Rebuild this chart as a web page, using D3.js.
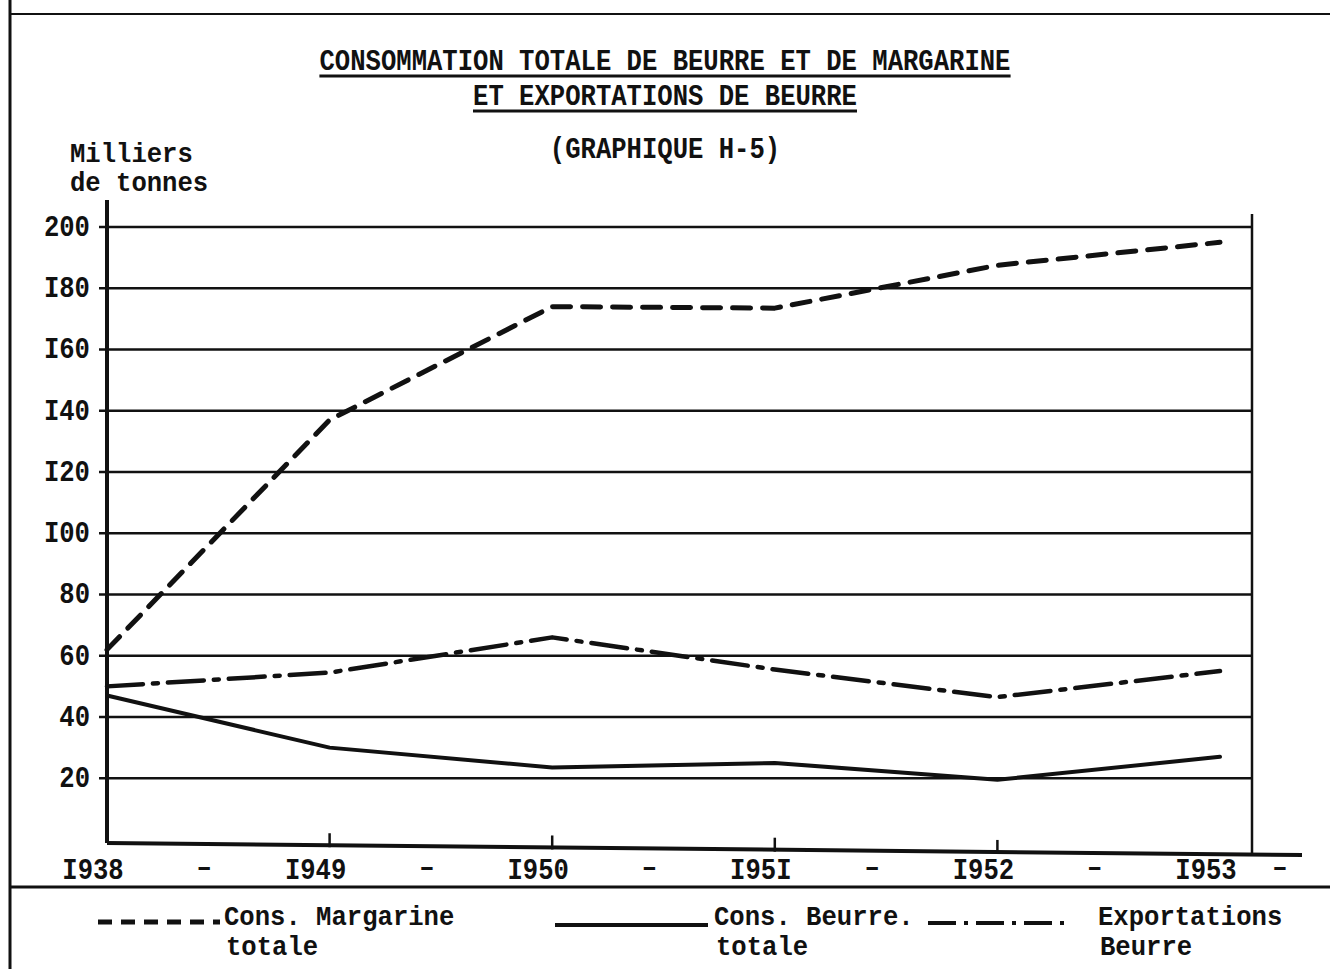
<!DOCTYPE html>
<html>
<head>
<meta charset="utf-8">
<script src="https://cdn.jsdelivr.net/npm/d3@7"></script>
<style>
  body { margin: 0; background: #fff; }
  text { font-family: "Liberation Mono", "DejaVu Sans Mono", monospace; fill: #111; }
</style>
</head>
<body>
<div id="chart"></div>
<script>
// years on the x axis (typed labels use I for 1)
var years = [1938, 1949, 1950, 1951, 1952, 1953];
var yearLabels = ["I938", "I949", "I950", "I95I", "I952", "I953"];

// series, milliers de tonnes
var margarine = [62, 137, 174, 173.5, 187.5, 195];
var beurre = [47, 30, 23.5, 25, 19.5, 27];
var exportations = [50, 54.5, 66, 55.5, 46.5, 55];

var yTicks = [20, 40, 60, 80, 100, 120, 140, 160, 180, 200];
var yTickLabels = ["20", "40", "60", "80", "I00", "I20", "I40", "I60", "I80", "200"];

var titleLines = ["CONSOMMATION TOTALE DE BEURRE ET DE MARGARINE", "ET EXPORTATIONS DE BEURRE"];
var subtitle = "(GRAPHIQUE H-5)";

var W = 1330, H = 969;
var fs = 25.6;

var svg = d3.select("#chart").append("svg")
  .attr("width", W)
  .attr("height", H);

// typed text, a little taller than the font draws it
function typed(g, tx, ty, t, anchor, sy) {
  sy = sy || 1.18;
  return g.append("text")
    .attr("x", tx).attr("y", ty)
    .attr("text-anchor", anchor || "start")
    .attr("font-size", fs)
    .attr("font-weight", "bold")
    .attr("transform", "translate(0," + ty + ") scale(1," + sy + ") translate(0," + (-ty) + ")")
    .text(t);
}

// page frame
svg.append("line").attr("x1", 10).attr("x2", 10).attr("y1", 0).attr("y2", H)
  .attr("stroke", "#111").attr("stroke-width", 3);
svg.append("line").attr("x1", 10).attr("x2", W).attr("y1", 14).attr("y2", 14)
  .attr("stroke", "#111").attr("stroke-width", 2);
svg.append("line").attr("x1", 10).attr("x2", W).attr("y1", 887).attr("y2", 887)
  .attr("stroke", "#111").attr("stroke-width", 3);

// titles
titleLines.forEach(function (t, i) {
  var ty = 70 + i * 35;
  typed(svg, 665, ty, t, "middle");
  var bw = t.length * fs * 0.6;
  svg.append("line")
    .attr("x1", 665 - bw / 2).attr("x2", 665 + bw / 2)
    .attr("y1", ty + 6).attr("y2", ty + 6)
    .attr("stroke", "#111").attr("stroke-width", 3);
});
typed(svg, 665, 158, subtitle, "middle");

// unit label
typed(svg, 70, 162, "Milliers", "start", 1.08);
typed(svg, 70, 191, "de tonnes", "start", 1.08);

// scales
var x = d3.scalePoint()
  .domain(years)
  .range([107, 1220]);

var y = d3.scaleLinear()
  .domain([40, 200])
  .range([717, 227]);

var x0 = 107, x1 = 1252, yBase = 843;

// horizontal grid lines
svg.append("g")
  .selectAll("line")
  .data(yTicks)
  .enter()
  .append("line")
  .attr("x1", x0 - 8)
  .attr("x2", x1)
  .attr("y1", function (d) { return y(d); })
  .attr("y2", function (d) { return y(d); })
  .attr("stroke", "#111")
  .attr("stroke-width", 2.5);

// y tick labels
var yl = svg.append("g");
yTicks.forEach(function (d, i) {
  typed(yl, 90, y(d) + 9, yTickLabels[i], "end");
});

// axes frame
svg.append("line").attr("x1", x0).attr("x2", x0).attr("y1", 200).attr("y2", yBase)
  .attr("stroke", "#111").attr("stroke-width", 4);
svg.append("line").attr("x1", x0).attr("x2", 1302).attr("y1", yBase).attr("y2", yBase + 12)
  .attr("stroke", "#111").attr("stroke-width", 4);
svg.append("line").attr("x1", x1).attr("x2", x1).attr("y1", 214).attr("y2", yBase + 10)
  .attr("stroke", "#111").attr("stroke-width", 2.5);

// x ticks
svg.append("g")
  .selectAll("line")
  .data(years.slice(1, 5))
  .enter()
  .append("line")
  .attr("x1", function (d) { return x(d); })
  .attr("x2", function (d) { return x(d); })
  .attr("y1", function (d) { return yBase - 12 + (x(d) - x0) * 12 / (1302 - x0); })
  .attr("y2", function (d) { return yBase + 2 + (x(d) - x0) * 12 / (1302 - x0); })
  .attr("stroke", "#111")
  .attr("stroke-width", 2.5);

// x labels with dashes between
var xl = svg.append("g");
years.forEach(function (d, i) {
  typed(xl, x(d) - 14, 879, yearLabels[i], "middle");
  var dx = i < years.length - 1 ? (x(d) + x(years[i + 1])) / 2 - 14 : x(d) + 60;
  typed(xl, dx, 876, "\u2013", "middle");
});

// series lines
var line = d3.line()
  .x(function (d, i) { return x(years[i]); })
  .y(function (d) { return y(d); });

var series = [
  { values: margarine, dash: "18,12", width: 5 },
  { values: beurre, dash: null, width: 4 },
  { values: exportations, dash: "36,10,5,10", width: 4.5 }
];

svg.append("g")
  .selectAll("path")
  .data(series)
  .enter()
  .append("path")
  .attr("d", function (d) { return line(d.values); })
  .attr("fill", "none")
  .attr("stroke", "#111")
  .attr("stroke-width", function (d) { return d.width; })
  .attr("stroke-dasharray", function (d) { return d.dash; })
  .attr("stroke-linecap", "round")
  .attr("stroke-linejoin", "round");

// legend
var legend = [
  { x1: 98, x2: 220, ly: 922, dash: "14,9", width: 5, tx: 224, lines: ["Cons. Margarine", "totale"] },
  { x1: 555, x2: 708, ly: 925, dash: null, width: 4, tx: 714, lines: ["Cons. Beurre.", "totale"] },
  { x1: 928, x2: 1072, ly: 923, dash: "28,8,4,8", width: 4, tx: 1098, lines: ["Exportations", "Beurre"] }
];

var lg = svg.append("g");
legend.forEach(function (d) {
  lg.append("line")
    .attr("x1", d.x1).attr("x2", d.x2)
    .attr("y1", d.ly).attr("y2", d.ly)
    .attr("stroke", "#111")
    .attr("stroke-width", d.width)
    .attr("stroke-dasharray", d.dash);
  d.lines.forEach(function (t, i) {
    typed(lg, d.tx + (i ? 2 : 0), 925 + i * 30, t, "start", 1.05);
  });
});
</script>
</body>
</html>
